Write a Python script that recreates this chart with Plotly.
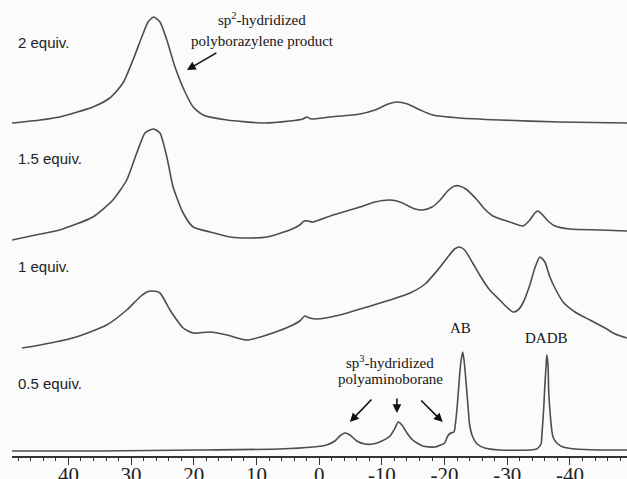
import plotly.graph_objects as go

# ---- data: 11B NMR chemical shift (ppm) and relative intensity (a.u.) ----
labels = ["2 equiv.", "1.5 equiv.", "1 equiv.", "0.5 equiv."]

ppm_2 = [49.0, 44.5, 41.4, 36.1, 33.4, 31.3, 29.7, 28.3, 27.3, 26.4, 25.4, 24.3, 23.0, 21.4,
         20.1, 18.5, 14.7, 8.7, 4.7, 2.6, 2.0, 1.3, -1.7, -6.5, -8.9, -11.0, -12.4, -14.1,
         -16.1, -18.1, -22.4, -28.8, -38.4, -49.1]
int_2 = [0, 3, 6, 16, 25, 40, 63, 86, 101, 106, 101, 83, 56, 31, 16, 8, 3, 0, 2, 4, 6, 4, 6,
         9, 13, 19, 21, 19, 13, 8, 5, 3, 1, 0]

ppm_15 = [49.0, 44.5, 41.4, 36.1, 32.9, 30.7, 29.1, 27.8, 27.0, 26.4, 25.4, 24.3, 23.3, 21.7,
          20.1, 17.4, 14.2, 11.0, 8.3, 4.7, 3.1, 2.4, 1.8, 1.0, -2.2, -6.5, -8.9, -11.3, -12.9,
          -15.3, -16.5, -18.0, -19.3, -20.5, -21.6, -22.4, -23.4, -25.2, -26.4, -27.7, -30.4,
          -32.5, -33.6, -34.4, -34.9, -35.5, -36.5, -37.6, -40.0, -44.8, -49.1]
int_15 = [0, 6, 10, 23, 40, 60, 87, 107, 110, 111, 107, 83, 53, 27, 13, 8, 3, 2, 3, 10, 15,
          19, 19, 18, 25, 33, 38, 40, 38, 31, 30, 33, 40, 49, 54, 54, 51, 40, 31, 24, 18, 14,
          20, 27, 29, 26, 19, 14, 11, 10, 9]

ppm_1 = [47.4, 44.5, 39.3, 33.9, 30.7, 28.6, 27.5, 26.7, 25.4, 23.8, 21.7, 20.1, 17.4, 14.7,
         11.5, 7.4, 4.2, 3.1, 2.3, 1.5, 0.4, -3.3, -7.6, -11.3, -14.5, -16.9, -18.9, -20.4,
         -21.6, -22.4, -23.2, -24.4, -25.6, -27.2, -28.8, -29.9, -30.9, -31.7, -32.5, -33.6,
         -34.4, -35.2, -36.0, -36.8, -37.6, -38.9, -40.8, -43.2, -45.6, -47.2, -49.1]
int_1 = [0, 3, 10, 23, 38, 51, 56, 57, 55, 38, 20, 15, 16, 13, 8, 15, 23, 27, 32, 30, 29, 33,
         41, 48, 55, 64, 78, 90, 99, 101, 98, 86, 73, 58, 48, 41, 36, 38, 45, 63, 80, 91, 86,
         71, 60, 46, 36, 28, 20, 14, 10]

ppm_05 = [49.0, 35.0, 19.0, 6.3, 1.0, -1.2, -2.5, -3.3, -4.1, -4.9, -6.0, -7.3, -8.6, -10.0,
          -11.3, -12.1, -12.6, -13.2, -14.0, -14.9, -16.5, -18.5, -20.0, -20.5, -21.0, -21.5,
          -21.8, -22.1, -22.4, -22.6, -22.9, -23.1, -23.4, -23.7, -24.0, -24.5, -25.2, -26.4,
          -28.8, -33.6, -34.7, -35.4, -35.5, -35.8, -36.0, -36.2, -36.3, -36.5, -36.6, -36.8,
          -37.1, -37.3, -37.9, -38.9, -40.8, -44.8, -49.1]
int_05 = [0, 0, 1, 2, 4, 6, 10, 15, 18, 16, 10, 7, 7, 10, 15, 23, 29, 26, 18, 11, 5, 4, 8, 15,
          18, 19, 31, 51, 76, 89, 99, 91, 71, 48, 26, 14, 7, 3, 1, 1, 2, 7, 14, 41, 66, 86, 96,
          86, 61, 41, 21, 14, 8, 4, 2, 1, 1]

# stacking offsets of each spectrum (a.u.)
offsets = [333, 216, 108, 5]

tick_vals = [40, 30, 20, 10, 0, -10, -20, -30, -40]
tick_text = ["40", "30", "20", "10", "0", "-10", "-20", "-30", "-40"]

# ---- figure ----
line_col = "#4d4d4d"
spectra = [(ppm_2, int_2), (ppm_15, int_15), (ppm_1, int_1), (ppm_05, int_05)]
x_range = [49.0, -49.1]
# the last spectrum is drawn on the overlaying (label-carrying) x axis, same scale
x_axes = ["x", "x", "x", "x2"]

fig = go.Figure()
for (px, iy), off, name, xa in zip(spectra, offsets, labels, x_axes):
    fig.add_trace(go.Scatter(
        x=px, y=[v + off for v in iy], mode="lines", name=name, xaxis=xa, yaxis="y",
        line=dict(color=line_col, width=1.6, shape="spline", smoothing=0.6),
        showlegend=False, hoverinfo="skip"))

sans = dict(family="Liberation Sans, Arial, sans-serif", size=15, color="#222222")
serif = dict(family="Liberation Serif, Times New Roman, serif", size=15, color="#151515")

label_y = [414, 298, 190, 73]
annotations = []
for name, ly in zip(labels, label_y):
    annotations.append(dict(x=48.3, y=ly, text=name, showarrow=False, xanchor="left",
                            yanchor="middle", font=sans))

annotations += [
    dict(x=9.1, y=437, text="sp<sup>2</sup>-hydridized", showarrow=False, font=serif,
         yanchor="middle"),
    dict(x=9.1, y=415, text="polyborazylene product", showarrow=False, font=serif,
         yanchor="middle"),
    dict(x=-11.3, y=94, text="sp<sup>3</sup>-hydridized", showarrow=False, font=serif,
         yanchor="middle"),
    dict(x=-11.3, y=77, text="polyaminoborane", showarrow=False, font=serif,
         yanchor="middle"),
    dict(x=-22.5, y=128, text="AB", showarrow=False, font=serif, yanchor="middle"),
    dict(x=-36.3, y=118, text="DADB", showarrow=False, font=serif, yanchor="middle"),
]

arrow = dict(text="", showarrow=True, arrowhead=2, arrowsize=1.1, arrowwidth=1.6,
             arrowcolor="#111111")
for hx, hy, ax, ay in [(21.1, 386, 31, -18), (-4.9, 34, 23, -24), (-12.4, 43, 0, -16),
                       (-19.7, 34, -23, -23)]:
    a = dict(arrow)
    a.update(x=hx, y=hy, ax=ax, ay=ay)
    annotations.append(a)

fig.update_layout(
    width=627, height=479,
    margin=dict(l=12, r=0, t=0, b=23, autoexpand=False),
    paper_bgcolor="#fbfbfb", plot_bgcolor="#fbfbfb",
    annotations=annotations,
    # axis with line, major and minor ticks
    xaxis=dict(range=x_range, automargin=False, showgrid=False, zeroline=False,
               showline=True, linecolor="#333333", linewidth=1.5, ticks="outside",
               ticklen=7, tickwidth=1.3, tickcolor="#333333", tickvals=tick_vals,
               showticklabels=False,
               minor=dict(dtick=2, ticks="outside", ticklen=3, tickwidth=1,
                          tickcolor="#333333", showgrid=False)),
    # overlaying axis with the same scale carrying the tick labels close to the line
    xaxis2=dict(range=x_range, overlaying="x", anchor="y", side="bottom",
                automargin=False, showgrid=False, zeroline=False, showline=False,
                ticks="", tickvals=tick_vals, ticktext=tick_text, ticklabelstandoff=4,
                tickfont=dict(family="Liberation Serif, Times New Roman, serif", size=21,
                              color="#222222")),
    yaxis=dict(range=[0, 456], visible=False, showgrid=False, zeroline=False,
               automargin=False),
)

fig.write_html("out.html")
